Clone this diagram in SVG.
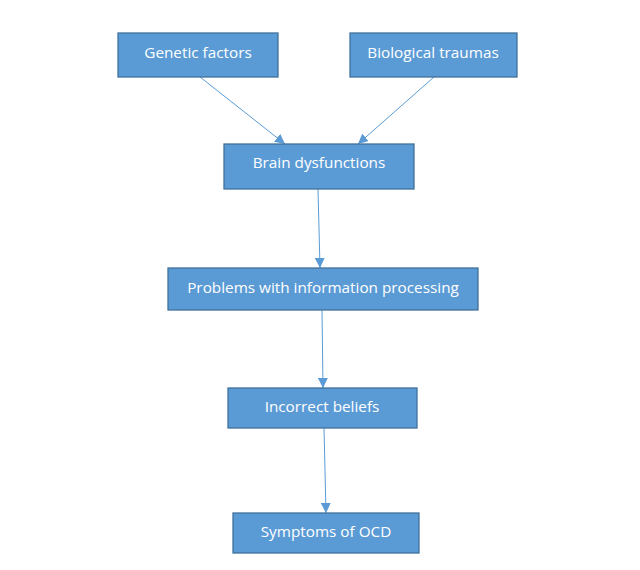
<svg xmlns="http://www.w3.org/2000/svg" width="640" height="570" viewBox="0 0 640 570">
<style>
.box{fill:#5B9BD5;stroke:#41719C;stroke-width:1.3}
.lbl{fill:#fff;font-family:"Open Sans","Liberation Sans",sans-serif;font-size:15.3px;text-anchor:middle}
.edge{stroke:#5B9BD5;stroke-width:1;fill:none;marker-end:url(#ah)}
</style>
<defs>
<marker id="ah" viewBox="0 0 10 10" refX="10" refY="5" markerWidth="10" markerHeight="10" markerUnits="userSpaceOnUse" orient="auto">
<path d="M0,0 L10,5 L0,10 z" fill="#5B9BD5"/>
</marker>
</defs>
<rect width="640" height="570" fill="#fff"/>
<g id="connectors">
<line class="edge" x1="200" y1="77" x2="285" y2="144"/>
<line class="edge" x1="434" y1="77" x2="358" y2="144"/>
<line class="edge" x1="318" y1="189" x2="320" y2="268"/>
<line class="edge" x1="322" y1="310" x2="323" y2="388"/>
<line class="edge" x1="324" y1="428" x2="326" y2="513"/>
</g>
<g id="genetic"><rect class="box" x="118" y="33" width="160" height="44"/><text class="lbl" x="198" y="57.5">Genetic factors</text></g>
<g id="biological"><rect class="box" x="350" y="33" width="167" height="44"/><text class="lbl" x="433" y="57.5">Biological traumas</text></g>
<g id="brain"><rect class="box" x="224" y="144" width="190" height="45"/><text class="lbl" x="319" y="167.5">Brain dysfunctions</text></g>
<g id="problems"><rect class="box" x="168" y="268" width="310" height="42"/><text class="lbl" x="323" y="292.5">Problems with information processing</text></g>
<g id="beliefs"><rect class="box" x="228" y="388" width="189" height="40"/><text class="lbl" x="322" y="412">Incorrect beliefs</text></g>
<g id="symptoms"><rect class="box" x="233" y="513" width="186" height="40"/><text class="lbl" x="326" y="537">Symptoms of OCD</text></g>
</svg>
